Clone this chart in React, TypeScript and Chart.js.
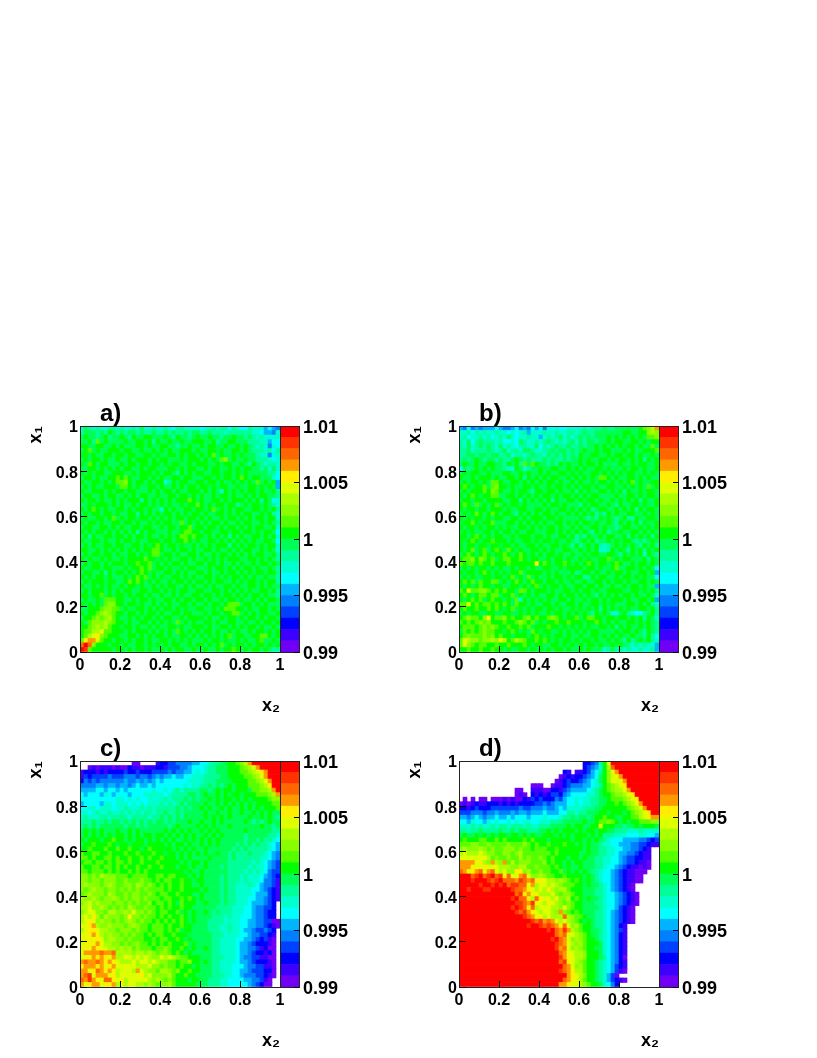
import React, { useEffect, useRef } from "react";
import { Chart, registerables } from "chart.js";

Chart.register(...registerables);

const FONT = '"Liberation Sans", Arial, sans-serif';
const axisTicks = [0, 0.2, 0.4, 0.6, 0.8, 1];
const barTicks = [0.99, 0.995, 1, 1.005, 1.01];
const barMin = 0.99;
const levelStep = 0.001;
const binSize = 0.02;
const levelColors = [
  "#6f00f5", "#3c00ff", "#0000ff", "#0040ff", "#0080ff", "#00b4ff", "#00ffff", "#00ffcc", "#00ff99", "#00ff55",
  "#00ff00", "#55ff00", "#88ff00", "#aaff00", "#ddff00", "#ffee00", "#ff9900", "#ff6600", "#ff3300", "#ff0000",
];

// Each row runs from x2 = 0 to x2 = 1, rows go from x1 = 1 down to x1 = 0.
// Each character is a colour level (base 20: 0..9, a..j); "." is an empty bin.
const panelA = [
  "7987877887 8778797787 7876887777 6778788687 6687775654",
  "8999898a98 9899898898 8989889899 8898887888 8887765547",
  "9a9989a899 a98a99aa99 9a98a9989a 99a99899a9 9898787777",
  "99a8b9a999 9a99aa9a8a 99a99a99aa a99a899aa9 9988877566",
  "aa99aa99a9 a999aa9a99 aa99899a99 a9aa99a99a 9a98787476",
  "9ab9a99aaa 9aa99a99a9 a9a99aaa9a 99aa9a99aa 9a98887868",
  "aa9a99aa9a a9aa99aa9a 99aa9a9aa9 a9ab9a99a9 a999877477",
  "9a9aa9a99a 99a9aaa9a9 aa999a9aaa 9a9a9bc9a9 9a99888767",
  "a9ba9aa999 a9aa9aa9aa 9a9aa99a9a aa99a9aa99 a98a987887",
  "99aa9a9a9a 9aa99a9aa9 99aa9a9aa9 9a9aa99a9a 9aa9989797",
  "a9a9aa99aa a99a9aaa9a 9aa98a9a9a a99aa9aa9a 9a99999886",
  "9aa9a99aab aba99aa9a9 a99aa9aa99 9aa9a9aa9a ba9aa99976",
  "a99aa9a9ab bca9aa9a9a a78a9aa99a a9aa9a99a9 a9a9b9a9a5",
  "9a9a99aaa9 bba9a99aa9 a99a9a9aa9 aa9a9aa99a 99aa9a9a95",
  "a99aaa9a9a a9aa999a9a 9aa9a99aaa 9a9a97a9a9 a9aa9a99a8",
  "9aa99a9aa9 9a9a9aa99a 99aa9aa9a9 a99a9aa9a9 9a9a9aa998",
  "a9aa9a99a9 a9aaa8a9a9 a9a9aaaba9 a99aa9a9aa a9a9a8a967",
  "99a9aaa9a9 a99a9aa9a9 a9a99a9aab a9a9aa9aa8 9a9aa9a987",
  "a9aba9a99a a9a9aa9a99 7a9a99aa9a a9ab9a9a9a a99aa9a9a8",
  "9a9aa9aa9a 99aa8a9a9a 9aa9a9a9aa 9a99aa9a9a 9aa99a9a87",
  "9a99aa9ab9 a9aa9aa9a9 a9a9aa9aa9 a9a99a9aa9 a9a9aa9aa7",
  "a9aa9a99aa 9aa9a99a9a 9aa99b9a9a 9a9aa9a99a 9aa99a9a98",
  "9aa99aa9a9 a99aa9aa99 a9aa9aab9a a9aa9a9aa9 a9a9aa99a7",
  "a9a9aa9a9a 9a9a8a9aa9 99a99abbaa 9aa99aa9aa 9aa9a9aa96",
  "9a8a99aa9a a9a9aa9a99 a9a9abbaba a9a9a9a8a9 a99aa9a9a7",
  "a99aa9a99a 9aa9a99aaa 9aa9aaba9a 99aa9a9a9a 9a9a99aa96",
  "9a9a99aa9a a99aa9a9ab a9aa9a99a9 a9a9aaa8a9 a9aa9a9aa7",
  "aa99a9a9a9 a9a9a9aabb a99a9aa9a9 9aa9a99a9a 9aa99a9a97",
  "9a9aa9aa9a 99aa9a9abb 9aa9a99aa9 a99a9aa9a9 a9a9aa99a8",
  "a9a99a9a99 a9aaaabaa9 a9a99aa9a9 9a9a9a9aaa 99aa9a9a98",
  "9a9aa9a9aa a9aabaab9a 9a9aa9a99a a9aa9a99a9 a99a9aa9a9",
  "a99aa9aa99 9a9aabab9a a9a99a9aa9 99a9aa9a9a 9aa9a99a98",
  "9aa99a8a9a a9a9aba9a9 9aa9a9a99a a9a99a9aa9 a9a9aa9aa8",
  "a9a9aa9a99 9a9abab9a9 a99aa9a9a9 9aa9a9a9aa 9a9a99a998",
  "9a9aaa9aa9 9ababa9a9a 99a9aa9a9a a9a9aa99a9 a9aa9a9aa8",
  "a99a9a9a99 a9aa9a99a9 a9aa99a9a9 9a9a99aa9a 99aa9a9a99",
  "9a9aaa9a9a 9aa99aa9aa 9a9a9aa99a a99aa9a9a9 a9a99aa9a8",
  "aa9aab9a9a a9a9aa9a99 a99a9a99aa 9aa9a9aa9a 9a9aa9a998",
  "9a99a9bbba a99a9aa9a9 9aa9a9aa9a a9a99a9aa9 a99a9a9aa9",
  "a9a9a9bcca a9aa9a99a9 a9a99aa9a9 9a9aa9abbb 9aa9a9a999",
  "99aaabccbb 9a99aa9a9a 9aa9a9a99a a99a9abbba a9a99aa9a9",
  "a9aabcdcba a9aa9a9aa9 a99aa9aa99 9a9aa9aabb 9a9a9aa99a",
  "9aabcbcdba 99a9a9aa9a 9aa99a9aaa a9a99a9aa9 a9aa9a9aa9",
  "a9bcccdcba a9a99aa9a9 a9a9b9a9a9 9aa9a99aa9 9a99a9aa9a",
  "aabcdcdbaa 9aa9a99a9a 99aa9a99aa a9a99aa9a9 a9aa9a99a9",
  "abbddebbaa a9a9aaa9a9 a9a9ba9a9a 9aa9a99a9a 99a9aa9a9a",
  "abdefcbaaa 99aa9a9a9a a9a99aa9a9 a9a9a9ab9a a99aabba9a",
  "bfggebaa9a a9a9aa9a99 aa9a9a9a99 9a9aa9a99a 9a99ab99a9",
  "hjhcaaa9aa 9a99aa9a9a 9a9aa99a9a a9a9ab9a9a a9a9aa9a9a",
  "jibaaaaa9a a9a9aa9a99 a9a9aa99a9 9a99a9aaba 9a9aa9a988",
];

const panelB = [
  "5464545556 5445645465 6476766777 7878889889 99999abcdg",
  "7786878778 7767678577 7877877887 8988999999 9aa99aacdc",
  "7867787867 8797677877 5787897878 9898999a9a 9a9a9a9bbc",
  "8796898887 8667698778 7898787897 9899899a9a a99aa9a9aa",
  "8797898987 9787688779 6878988988 9899a9a9a9 a9aa9a99b9",
  "8897888987 8978879987 7889899898 9a99a9aa99 9a9a99aaab",
  "8899899899 8897887898 8798989898 a99aa99a9a a9aa9a99a9",
  "8989a98998 9889a98988 8989889899 a9a99aa9a9 aa9a9a8a9a",
  "9a99a99aa9 98a9a8b9ba 99898a9a99 a9aa9a9999 a99a9aa99a",
  "6989a9a9a9 9877a97899 a99aa99a9a 9a99aa9a99 9a9aa9a99a",
  "9a9aa99a99 9aa99a9a99 a9a99aa9a9 a99aa9a9a9 a9aa99a9a9",
  "a99a9aaa9a 99aa9a8a9a 9a9aa99a9a 9a9a9bba9a 99aa9a9a99",
  "9a9aa9a9bb a99aa9a9a9 a9aa9a99a9 a99a9aa9a9 a9ab9a99aa",
  "aba9aab9bc aa9a99aa9a 99a9aa9a9a 9aa9a99aa9 9a9a9a9b9a",
  "9a9aaabacb a99a9aa98a a9aa9a99a8 a9a99aa9a9 a8a99a9aa9",
  "a9aba9aabb 99aa9a9a9a 9aa9a9aa9a 9a9aa9999a 99aa9a9aa9",
  "9aa9aa9aaa a99aa8a9a9 a9a8a99aa9 a9aa9a99a9 a9a9a8a99a",
  "aba9b9a9ab 9a9aa9a999 9a9aa9a999 8a9aa99a98 a99aa9a99a",
  "a9aa9aa9aa a9a99aa99a a9a99aa9a9 a9a89aa99a 9a9a8a9aa9",
  "9a9aba9aba 9aa98a9a9a 9aa9a99a9a 9a9a898a9a 99aa99a9a9",
  "a9a9aa9a9a a99aa9a9aa a9aa9a9999 a9898a9a98 9a88a99aa9",
  "9aaba9aab9 99aa9a9a9a 9a99aa9a9a 9aa9a99a98 a9a9a8a99a",
  "a9aa9a9aa9 a9a99aa9a9 a9aa9a99a9 a99aa9a998 9aa99a9a9a",
  "9a9a99aa9a 9aa9a99aa9 99aa9a9a9a 9a98a9a899 a99aa9a9a9",
  "aa9aba9a9a a99a9aaa9a a9a99aa9a8 98a99a9aa9 9a8a9a9a8a",
  "a9aba9aaba aa9a99aa9a 9aa9a99a98 9a9a899a9a 9aa98989a9",
  "a9aa9aa9aa 9aa9a99aa9 a99aa9a98a 89a9a8789a 9a9a98a9a8",
  "a9ab9ab9ab a9ba9a99aa 9a9a99aa99 a9a9a778a9 a98a9a8a9a",
  "9aba9aba9a aba9aba9a9 a9aa9a99a9 9a9aa99aa9 8a9a9a7a98",
  "abbcacbab9 abbaaba9aa 99a9aa9a99 a9a99aab9a 9aa999a8a9",
  "babbabaaba aabaaaaaaf aba9aaba9a 9aba9aa9ab a99a9aa9a9",
  "9a9a9aa9a9 a99a9aa9a9 9aa99a9aaa a9aa9a99ab 99aa9a9a96",
  "a9aa9aba9a 9a9aab9aaa a9a9a999a8 9aa9a99a9a a9a99aa9a5",
  "9a9a99aa9a a9ab9a9b9a 99a9aa9a9a a88a9aa99a 9aa9a9a996",
  "abab9baabb 9a9aba9aba a9aa9a99a9 9a99aa9a9a a9a99aa9a9",
  "a9a9abaa9a a99aa9a9ab 9a9aa9a99a a9aa9a99a9 9a9aa9a995",
  "baebbccbab abaa9bba9a aa9a99aa9a 9aa9a99aaa a99aa9a9a8",
  "aba9abbabb 9aab9a9a9a 99aa9a9aa9 a9a98a9a9a 9aa9a99a97",
  "a9abab9aba a9a9b7a9a9 a9a99aa9a9 9a9aa9a9aa a9a99aa9a5",
  "bbeababbab aba9baa9a9 9aa9a99aa9 a99aa9a9a9 99aa9a9a87",
  "abaabaabab a9ab9a9a9a a9aa9a99a9 a9a9a8a9a9 a9a99aa9a8",
  "9a9aa99aa9 9aa99a9a9a 99a9aa9a9a 9a98a9a977 9a876689a8",
  "abcbbacfab bcabaabcab aabcba9aab 9abbaa9aa9 aa9a9a8a97",
  "bababcbcaa abaabcbab9 a9aabaabaa a9aaba9a9a 99aa9a9a98",
  "abbbabcbcb aabaabab9a aabaa9a9a9 a9a99aa9a8 a9a99a9a98",
  "9bababcbba a9aba9a9ba 9aa99a9a9a 9a9aa9999a 9aa9a98a98",
  "abcbbbcbca baa9aaa9ab a9a9aa9a99 a99aa9a9a9 a99a998a86",
  "bedccbccdc edabdcbaab aba9a9aa9a 9aa9a99a9a 98a89a9a87",
  "becbabbaab aabaaaba9a a99aa9a9a9 a9aa9a99a9 a987878775",
  "aabaabaaba a9a99aa9a9 a9a9aa9a99 a9a9997898 8787787785",
];

const panelC = [
  ".......... ...00....1 2233444455 6678899aab cdgjjjjjjj",
  "..01011101 0021101112 2133344566 6788999aaa bcdegjjjjj",
  "1222121222 2322322233 3343445567 6788999aaa bbcdefgjjj",
  "1323333433 3444344345 4556556677 7888899aaa abbcdegjjj",
  "2434344444 4544545456 5666666777 78889999aa aabbcdegjj",
  "4444554554 5545655656 6666667677 8898989a9a aabbbcdfjj",
  "5555665665 6566666676 6767878888 9989a9aa9a aa9bbccdgj",
  "6566657656 6656667777 7678888998 9a99a9a9aa 9aaabbbcdg",
  "6666666667 7676766777 7878889898 99a9a9aa9a 9a9aaaabcc",
  "5666657767 7767676777 8787898999 9a99a9a9a9 a9a9aaaabb",
  "6677677767 7877787878 8888989899 a9a99a9a99 a9a9a9aaab",
  "7767877877 8787878878 8988989999 9a99a99a99 a99a9a9a99",
  "7877788788 8878888788 9898989999 9a9a9a9a99 99a99a9a98",
  "8889889899 8989898989 9898999a99 a99a9a9999 9a98989a99",
  "8989899999 9899898999 9989a9999a 9a9a999a99 99999a9989",
  "9a9a9a999a 99a9a99999 9a9a9a9a99 a9a9a99999 9a99999988",
  "9a9a9a9a9a a9a9a9aa9a a9a9a9a9a9 9a9a9a9999 9899999887",
  "a9aaa9aaba a9a9aa9a9a 9a9a99a9a9 a9a9a99999 9899898876",
  "9aabaaaba9 aa9aaa9aaa a9a9aa9a99 a9a9a99998 9898988765",
  "aabaaabaab aabaa9abaa aaa9a9a9a9 9a99999989 8988888765",
  "baabbaabaa abaabaaaba a9aa9a9a9a 9a99a99898 8898887654",
  "bbabaabbab aabaababaa baaa9a9a99 99a9999898 8888877654",
  "abbabbabab babaabaaab aaaaa9a9aa 9a99999888 8887876543",
  "baabbabbab abaabaabaa baaa9aa9a9 9a99989888 8878776543",
  "bbabbbabab aabababaaa aaaaaa9a99 a999999888 8787876433",
  "ccbcbdcccb bbabbbbaab babbaaa9a9 a999989888 7877765432",
  "ccbccbcccb bcbbbcbbab abbaabaa9a a999989888 7877764431",
  "cdcccbcdcb bccbdcbcba babaabaa99 a999989887 7787654431",
  "cbcdccbccb cbcbcbcbbb babaabaaaa 9a99989887 7776654321",
  "bcdcccbdcb bcbccbbcba bbaabaaa99 a999989887 7776555321",
  "dccdcbccdc bcbccbcbbb abbaababa9 a999989887 7766554321",
  "cdecdcccbc cbcbcbbcab baba9baaa9 9a99989887 776555432.",
  "ddeccdcbcb cbdcbbcbba babaabaa99 9999888877 766544332.",
  "cdeeccbddc cdceccbcba bbaab9a9a9 9a98988877 766544322.",
  "dedfdbdccc bcfccbcbba babaaba9a9 9998887877 666544322.",
  "defecdccbc bcdcbcbbab abababa9a9 9988887777 6655443300",
  "eefgdccdcc cbcdcbbabb babaabaa99 9988877877 6655443210",
  "deffeddccb cccbcbbabb babab9aa99 9988877877 655433432.",
  "eefgfdcdcc bcbcbbabab baabaaa999 9998887777 665443321.",
  "efeefecddc cbcbbbaaba bbaaba9a99 9998877776 655432310.",
  "eeffgeddcc bcbccbbaba babaaab9a9 9998877776 554322210.",
  "efegfeeddc dcdbcbbbab bcbaaba9a9 9a98877776 554431200.",
  "egggghgghd dddcddcdcb ccbaba9a99 9998877776 554322120.",
  "eefgfgfegd deedededcc ededcbbaaa 9998887776 544331100.",
  "ghgghgfgfe dddedeeded ccbbabbcaa 9a98877776 554322210.",
  "fgggfgefge eeeedddecc bcbbabaa9a 9998877766 654433110.",
  "ggefhgfgfd eeedgedccb ddcbcaabaa 9998877766 554333220.",
  "ghiegggefd eeeeefdecc ccdbaabaa9 9998887766 544433210.",
  "hgigfehhfe fdeeeeedcd cbcbaaa9aa 9988877666 65544310..",
  "gefggeffgd edeeddcdcb ccdbaaaaa9 9988877666 66543200..",
];

const panelD = [
  ".......... .......... .......... .22348aejj jjjjjjjjjj",
  ".......... .......... .......... .23457adhj jjjjjjjjjj",
  ".......... .......... ......21.1 123568aceg jjjjjjjjjj",
  ".......... .......... .....01212 234569acee gjjjjjjjjj",
  ".......... .......... ....012322 345679acee egjjjjjjjj",
  ".......... ........00 0..0112344 455678abcd efjjjjjjjj",
  ".......... ....00..11 1002213455 556789abcd degjjjjjjj",
  ".......... ....010.21 2123324566 667789aabc cdefjjjjjj",
  ".0.0.00.00 0101002132 3222435667 6778899abb bcdefjjjjj",
  "0101211222 1212122223 3434555667 6778899aab abcdegjjjj",
  "2212322233 3333343344 4544565777 788899aaaa aabcdegjjj",
  "3334443445 4445455455 5655566887 88999aa9aa a9abcdefjj",
  "5545654556 5565666566 6766678898 9989aabaa9 9aabbdefgg",
  "6657665767 6676767766 7778889999 9a99abbcba 9a9aabbbcc",
  "7778787787 8878887877 8889999a9a a99aaeaaa9 9899a9aaa9",
  "8878898888 9889899888 99a9a9aaa9 a9aa9aa998 8877787777",
  "9a99a9a9a9 aa9aa9a9a9 9aaa9a9a9a aa9a9a8887 7766677665",
  "abaaabbaab abaaaababa aa9aaaaa9a a9a9a98766 6555544323",
  "bbbccbbcbb bbcbbbcbab aabaaabaa9 a9a9987766 5554433211",
  "cdcccdcbcb bcccbcbbab bbaabaaaaa a9a9988776 65544321..",
  "dedddedccb bccbcdbbbb bbbabaaaaa 99a9988776 55443211..",
  "eeeeeeedbc bbcbbdbcbb cbabaaa9aa 9a99887766 54332211..",
  "ggggefdcgd cgbdbcccbb bcabaa9a9a a999887766 54332110..",
  "gggfeefeee dddccddbbc bbbaba9a99 a999887665 43211010..",
  "hgefgheghe deccffcdbb cbbaab9a9a 9a98876654 3211000...",
  "jjjhijhijh ifheeghecc dcbbaabaaa a9a9876654 321100....",
  "jjjijjjihi jhhhgihghf feddcdcbab a9a9876654 321100....",
  "jjjjjijjij ijhiihhegd eededcbbba a9a9987654 3210......",
  "jjijjjiijj jjjihhgfed edfdcddbaa a999887654 3210......",
  "jjjjjjjjjj jjjjhifgef dddecbccba a999887665 43210.....",
  "jjjjjjjjjj jjjijhhfdh feedeccdab a9a9987665 43210.....",
  "jjjjjjjjjj jjjjiihgif edfedcbcba a999887665 43210.....",
  "jjjjjjjjjj jjjijihfhd eeeddcecba a999987665 3210......",
  "jjjjjjjjjj jjjjihigfe deedcgcbab a999887654 3210......",
  "jjjjjjjjjj jjjjjjihge fdedddhdcb ba99887654 3210......",
  "jjjjjjjjjj jjjjjjjjih ighgededcb a9a9887654 3210......",
  "jjjjjjjjjj jjjjjjjijj ihihgfhecd baa9887654 21........",
  "jjjjjjjjjj jjjjjjjjjj jjijhgigdc baa9987654 31........",
  "jjjjjjjjjj jjjjjjjjjj jjjjhgheed cba9987654 21........",
  "jjjjjjjjjj jjjjjjjjjj jjjijhgecd cbaa987654 21........",
  "jjjjjjjjjj jjjjjjjjjj jjjjihgedc dbaaa97654 21........",
  "jjjjjjjjjj jjjjjjjjjj jjjjighecd cbaa997654 21........",
  "jjjjjjjjjj jjjjjjjjjj jjjjjhgeed dcaaa97654 21........",
  "jjjjjjjjjj jjjjjjjjjj jjjjjigfed dcaaa98654 20........",
  "jjjjjjjjjj jjjjjjjjjj jjjjjhifed cbaa987654 21........",
  "jjjjjjjjjj jjjjjjjjjj jjjjjjhgec dbaa987653 21........",
  "jjjjjjjjjj jjjjjjjjjj jjjjjihgfd dbaa987653 10........",
  "jjjjjjjjjj jjjjjjjjjj jjjjjjjgfe dcaa987530 ..........",
  "jjjjjjjjjj jjjjjjjjjj jjjjjjhgfe dbaa987532 10........",
  "jjjjjjjjjj jjjjjjjjjj jjjjjggfee dcbaa97642 ..........",
];

const panels = [
  { label: "a)", rows: panelA, left: 80, top: 426 },
  { label: "b)", rows: panelB, left: 459, top: 426 },
  { label: "c)", rows: panelC, left: 80, top: 761 },
  { label: "d)", rows: panelD, left: 459, top: 761 },
];

const FRAME = "#222222";
const tickFont = { family: FONT, weight: "bold" as const, size: 16 };
const TITLE_H = 24;
const PLOT_W = 200;
const PLOT_H = 226;
const AXIS_L = 60;
const AXIS_B = 65;
const PAD_R = 8;

function noScalePadding(s: any) {
  s.paddingLeft = 0;
  s.paddingRight = 0;
  s.paddingTop = 0;
  s.paddingBottom = 0;
}

function cellsFrom(rows: string[]) {
  const data: { x: number; y: [number, number] }[] = [];
  const colors: string[] = [];
  rows.forEach((row, r) => {
    const cells = row.replace(/\s/g, "");
    for (let c = 0; c < cells.length; c++) {
      if (cells[c] === ".") continue;
      data.push({ x: (c + 0.5) * binSize, y: [1 - (r + 1) * binSize, 1 - r * binSize] });
      colors.push(levelColors[parseInt(cells[c], 20)]);
    }
  });
  return { data, colors };
}

function frameAxis(position: string, showBorder = true) {
  const horizontal = position === "top" || position === "bottom";
  return {
    type: "linear",
    position,
    min: 0,
    max: 1,
    afterFit: (s: any) => {
      noScalePadding(s);
      if (horizontal) s.height = 0;
      else s.width = 0;
    },
    ticks: { display: false },
    grid: { display: false, drawTicks: false },
    border: { display: showBorder, color: FRAME, width: 1, z: 2 },
  };
}

const moveTitle = {
  id: "moveTitle",
  afterLayout(chart: any) {
    if (chart.titleBlock) chart.titleBlock.left = chart.chartArea.left + 20;
  },
};

function heatConfig(label: string, rows: string[]): any {
  const { data, colors } = cellsFrom(rows);
  return {
    type: "bar",
    data: {
      datasets: [
        {
          label,
          data,
          backgroundColor: colors,
          borderWidth: 0,
          borderSkipped: false,
          inflateAmount: 0.33,
          grouped: false,
          barPercentage: 1,
          categoryPercentage: 1,
        },
      ],
    },
    plugins: [moveTitle],
    options: {
      responsive: false,
      animation: false,
      events: [],
      layout: { padding: { top: 0, right: PAD_R, left: 0, bottom: 0 } },
      plugins: {
        legend: { display: false },
        tooltip: { enabled: false },
        title: {
          display: true,
          text: label,
          align: "start",
          color: "#000",
          padding: 0,
          font: { family: FONT, weight: "bold", size: 24, lineHeight: 1 },
        },
      },
      scales: {
        x: {
          type: "linear",
          position: "bottom",
          min: 0,
          max: 1,
          offset: false,
          afterBuildTicks: (s: any) => (s.ticks = axisTicks.map((value) => ({ value }))),
          afterFit: (s: any) => {
            noScalePadding(s);
            s.height = AXIS_B;
          },
          ticks: { color: "#000", font: tickFont, padding: 10, maxRotation: 0, autoSkip: false, callback: (v: number) => String(v) },
          grid: { offset: false, drawOnChartArea: false, tickLength: -6, tickColor: "#000", z: 2 },
          border: { color: FRAME, width: 1, z: 2 },
          title: {
            display: true,
            text: "x₂",
            align: "end",
            color: "#000",
            padding: { top: 5, bottom: 0 },
            font: { family: FONT, weight: "bold", size: 18 },
          },
        },
        y: {
          type: "linear",
          position: "left",
          min: 0,
          max: 1,
          afterBuildTicks: (s: any) => (s.ticks = axisTicks.map((value) => ({ value }))),
          afterFit: (s: any) => {
            noScalePadding(s);
            s.width = AXIS_L;
          },
          ticks: { color: "#000", font: tickFont, padding: 9, labelOffset: 2, autoSkip: false, callback: (v: number) => String(v) },
          grid: { drawOnChartArea: false, tickLength: -7, tickColor: "#000", z: 2 },
          border: { color: FRAME, width: 1, z: 2 },
          title: {
            display: true,
            text: "x₁",
            align: "end",
            color: "#000",
            padding: { top: 5, bottom: 0 },
            font: { family: FONT, weight: "bold", size: 18 },
          },
        },
        x2: frameAxis("top"),
        y2: frameAxis("right"),
      },
    },
  };
}

function colorBarConfig(): any {
  return {
    type: "bar",
    data: {
      labels: [""],
      datasets: levelColors.map((color, i) => ({
        data: [[barMin + i * levelStep, barMin + (i + 1) * levelStep]],
        backgroundColor: color,
        borderWidth: 0,
        borderSkipped: false,
        inflateAmount: 0.33,
        grouped: false,
        barPercentage: 1,
        categoryPercentage: 1,
      })),
    },
    options: {
      responsive: false,
      animation: false,
      events: [],
      layout: { padding: { top: 12, right: 0, left: 0, bottom: 12 } },
      plugins: { legend: { display: false }, tooltip: { enabled: false } },
      scales: {
        x: {
          afterFit: (s: any) => {
            noScalePadding(s);
            s.height = 0;
          },
          ticks: { display: false },
          grid: { display: false, drawTicks: false },
          border: { color: FRAME, width: 1, z: 2 },
        },
        y: {
          type: "linear",
          position: "right",
          min: barMin,
          max: 1.01,
          afterBuildTicks: (s: any) => (s.ticks = barTicks.map((value) => ({ value }))),
          afterFit: (s: any) => {
            noScalePadding(s);
            s.width = 60;
          },
          ticks: {
            color: "#000",
            font: { family: FONT, weight: "bold", size: 18 },
            padding: 9,
            labelOffset: 2,
            autoSkip: false,
            callback: (v: number) => String(v),
          },
          grid: { drawOnChartArea: false, tickLength: -5, tickColor: "#000", z: 2 },
          border: { color: FRAME, width: 1, z: 2 },
        },
        x2: frameAxis("top"),
        y2: frameAxis("left", false),
      },
    },
  };
}

function ChartCanvas({ config, left, top, width, height }: { config: () => any; left: number; top: number; width: number; height: number }) {
  const ref = useRef<HTMLCanvasElement>(null);
  useEffect(() => {
    const chart = new Chart(ref.current as HTMLCanvasElement, config());
    return () => chart.destroy();
  }, []);
  return <canvas ref={ref} width={width} height={height} style={{ position: "absolute", left, top, width, height }} />;
}

export default function App() {
  return (
    <div style={{ position: "absolute", left: 0, top: 0, width: 817, height: 1058, background: "#fff", overflow: "hidden" }}>
      {panels.map((p) => (
        <React.Fragment key={p.label}>
          <ChartCanvas
            config={() => heatConfig(p.label, p.rows)}
            left={p.left - AXIS_L}
            top={p.top - TITLE_H}
            width={AXIS_L + PLOT_W + PAD_R}
            height={TITLE_H + PLOT_H + AXIS_B}
          />
          <ChartCanvas
            config={colorBarConfig}
            left={p.left + PLOT_W + 1}
            top={p.top - 12}
            width={18 + 60}
            height={PLOT_H + 24}
          />
        </React.Fragment>
      ))}
    </div>
  );
}
